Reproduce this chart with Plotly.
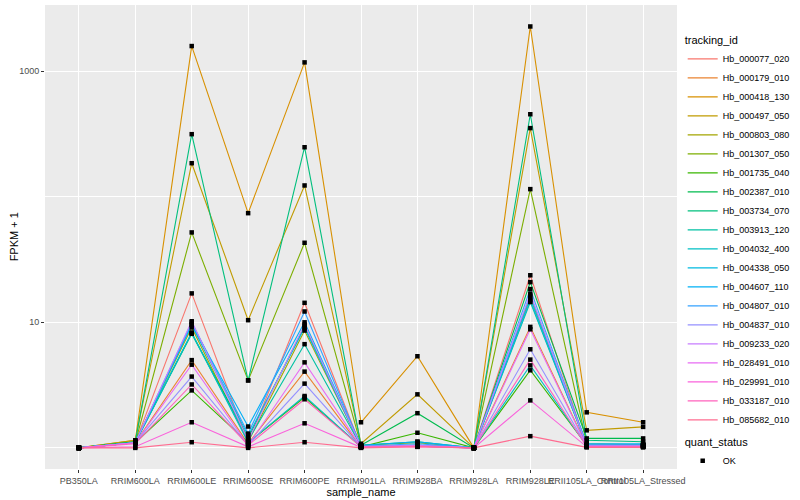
import plotly.graph_objects as go

samples = ["PB350LA", "RRIM600LA", "RRIM600LE", "RRIM600SE", "RRIM600PE",
           "RRIM901LA", "RRIM928BA", "RRIM928LA", "RRIM928LE",
           "RRII105LA_Control", "RRII105LA_Stressed"]

tracking_ids = ["Hb_000077_020", "Hb_000179_010", "Hb_000418_130", "Hb_000497_050",
                "Hb_000803_080", "Hb_001307_050", "Hb_001735_040", "Hb_002387_010",
                "Hb_003734_070", "Hb_003913_120", "Hb_004032_400", "Hb_004338_050",
                "Hb_004607_110", "Hb_004807_010", "Hb_004837_010", "Hb_009233_020",
                "Hb_028491_010", "Hb_029991_010", "Hb_033187_010", "Hb_085682_010"]

# FPKM + 1 per sample (order of samples above)
hb_000077_020 = [1.0, 1.10, 17.0, 1.10, 14.3, 1.02, 1.05, 1.0, 23.7, 1.02, 1.02]
hb_000179_010 = [1.0, 1.10, 5.0, 1.08, 4.05, 1.01, 1.03, 1.0, 9.2, 1.04, 1.03]
hb_000418_130 = [1.0, 1.15, 1585, 74, 1175, 1.60, 5.37, 1.0, 2270, 1.92, 1.60]
hb_000497_050 = [1.0, 1.15, 185, 10.4, 123, 1.08, 2.67, 1.0, 352, 1.38, 1.47]
hb_000803_080 = [1.0, 1.12, 9.1, 1.12, 8.6, 1.03, 1.05, 1.0, 15.6, 1.05, 1.05]
hb_001307_050 = [1.0, 1.10, 52, 3.45, 43, 1.05, 1.10, 1.0, 115, 1.08, 1.06]
hb_001735_040 = [1.0, 1.10, 2.87, 1.10, 2.53, 1.02, 1.32, 1.0, 4.15, 1.05, 1.05]
hb_002387_010 = [1.0, 1.12, 8.2, 1.20, 9.3, 1.05, 1.89, 1.0, 20.9, 1.19, 1.19]
hb_003734_070 = [1.0, 1.12, 315, 3.45, 248, 1.05, 1.12, 1.0, 454, 1.15, 1.12]
hb_003913_120 = [1.0, 1.10, 8.1, 1.15, 6.7, 1.03, 1.05, 1.0, 14.5, 1.05, 1.05]
hb_004032_400 = [1.0, 1.10, 8.3, 1.10, 2.59, 1.02, 1.03, 1.0, 4.54, 1.04, 1.04]
hb_004338_050 = [1.0, 1.10, 9.5, 1.25, 9.0, 1.03, 1.05, 1.0, 15.0, 1.05, 1.05]
hb_004607_110 = [1.0, 1.10, 9.6, 1.48, 10.0, 1.05, 1.12, 1.0, 16.3, 1.08, 1.08]
hb_004807_010 = [1.0, 1.10, 10.0, 1.30, 12.2, 1.03, 1.08, 1.0, 18.4, 1.06, 1.06]
hb_004837_010 = [1.0, 1.10, 3.7, 1.05, 3.25, 1.02, 1.05, 1.0, 6.1, 1.03, 1.03]
hb_009233_020 = [1.0, 1.10, 10.2, 1.15, 9.6, 1.03, 1.04, 1.0, 16.9, 1.04, 1.04]
hb_028491_010 = [1.0, 1.10, 4.6, 1.05, 4.8, 1.02, 1.04, 1.0, 8.8, 1.03, 1.03]
hb_029991_010 = [1.0, 1.02, 1.60, 1.02, 1.57, 1.01, 1.02, 1.0, 2.39, 1.02, 1.02]
hb_033187_010 = [1.0, 1.08, 3.2, 1.05, 2.44, 1.02, 1.03, 1.0, 5.05, 1.02, 1.02]
hb_085682_010 = [1.0, 1.0, 1.11, 1.0, 1.11, 1.0, 1.02, 1.0, 1.24, 1.01, 1.01]

series = [hb_000077_020, hb_000179_010, hb_000418_130, hb_000497_050, hb_000803_080,
          hb_001307_050, hb_001735_040, hb_002387_010, hb_003734_070, hb_003913_120,
          hb_004032_400, hb_004338_050, hb_004607_110, hb_004807_010, hb_004837_010,
          hb_009233_020, hb_028491_010, hb_029991_010, hb_033187_010, hb_085682_010]

quant_status = "OK"

palette = ["#F8766D", "#EA8331", "#D89000", "#C09B00", "#A3A500", "#7CAE00", "#39B600",
           "#00BB4E", "#00BF7D", "#00C1A3", "#00BFC4", "#00BAE0", "#00B0F6", "#35A2FF",
           "#9590FF", "#C77CFF", "#E76BF3", "#FA62DB", "#FF62BC", "#FF6C91"]

FONT = "Liberation Sans, Arial, sans-serif"

fig = go.Figure()
for tid, vals, col in zip(tracking_ids, series, palette):
    fig.add_trace(go.Scatter(
        x=samples, y=vals, mode="lines", name=tid,
        line=dict(color=col, width=1.1), legend="legend", hoverinfo="skip"))

all_x, all_y = [], []
for vals in series:
    all_x += samples
    all_y += vals
fig.add_trace(go.Scatter(
    x=all_x, y=all_y, mode="markers", name=quant_status,
    marker=dict(color="black", size=4.5, symbol="square"), legend="legend2"))

fig.update_layout(
    width=800, height=500,
    margin=dict(l=45, r=116, t=5, b=31),
    paper_bgcolor="white", plot_bgcolor="#EBEBEB",
    font=dict(family=FONT, size=9, color="black"),
    showlegend=True,
    legend=dict(
        title=dict(text="tracking_id", font=dict(size=11, color="black")),
        x=1.009, xanchor="left", y=0.946, yanchor="top",
        font=dict(size=9, color="black"), bgcolor="rgba(0,0,0,0)",
        itemwidth=30, tracegroupgap=0),
    legend2=dict(
        title=dict(text="quant_status", font=dict(size=11, color="black")),
        x=1.009, xanchor="left", y=0.08, yanchor="top",
        font=dict(size=9, color="black"), bgcolor="rgba(0,0,0,0)",
        itemwidth=30),
    xaxis=dict(
        type="category", categoryorder="array", categoryarray=samples,
        range=[-0.6, len(samples) - 0.4],
        showgrid=True, gridcolor="white", gridwidth=1.1,
        ticks="outside", ticklen=3, tickcolor="#333333", tickwidth=1,
        tickangle=0,
        tickfont=dict(size=9, color="#4D4D4D"),
        title=dict(text="sample_name", font=dict(size=11, color="black"), standoff=0),
        zeroline=False, showline=False, automargin=False),
    yaxis=dict(
        type="log", range=[-0.168, 3.527],
        tickmode="array", tickvals=[10, 1000], ticktext=["10", "1000"],
        showgrid=True, gridcolor="white", gridwidth=1.1,
        minor=dict(tickmode="array", tickvals=[1, 100], showgrid=True,
                   gridcolor="white", gridwidth=0.55, ticks=""),
        ticks="outside", ticklen=3, tickcolor="#333333", tickwidth=1,
        tickfont=dict(size=9, color="#4D4D4D"),
        zeroline=False, showline=False, automargin=False),
    annotations=[dict(
        text="FPKM + 1", textangle=-90, showarrow=False,
        xref="paper", yref="paper", x=-0.0485, y=0.5,
        xanchor="center", yanchor="middle",
        font=dict(size=11, color="black"))],
)

fig.write_html("out.html", config={"displayModeBar": False},
               post_script="document.body.style.margin='0';")
